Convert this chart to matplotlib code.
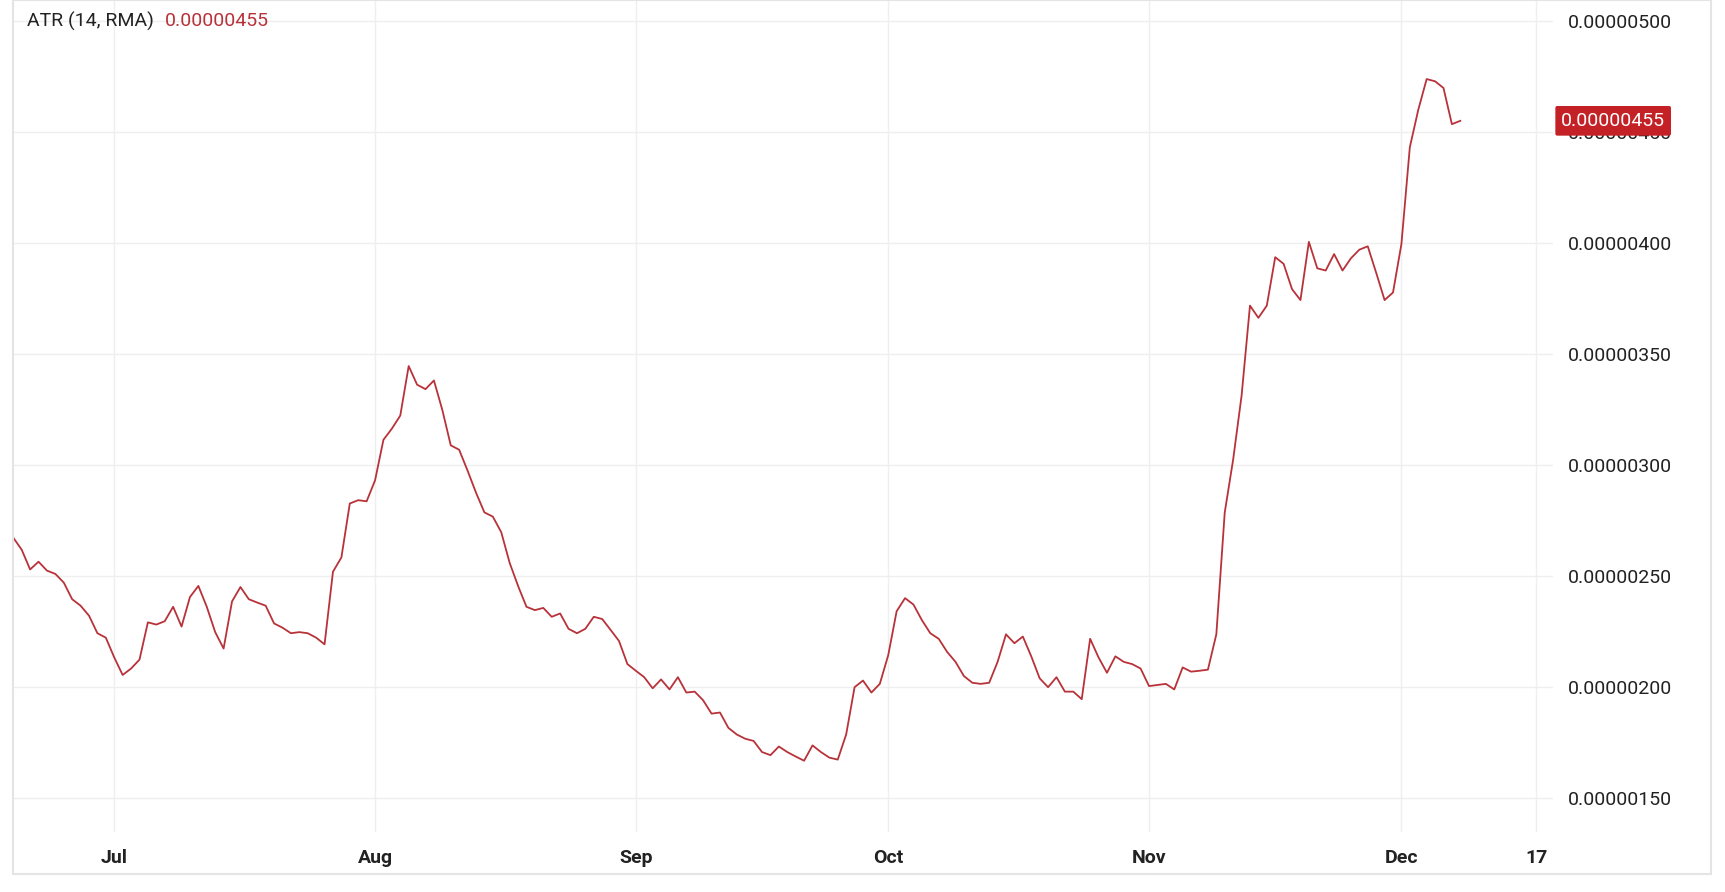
import pandas as pd
import numpy as np
import matplotlib
matplotlib.use("Agg")
import matplotlib.pyplot as plt
from matplotlib.patches import Rectangle

plt.rcParams['font.family'] = ['Roboto', 'DejaVu Sans']

start_date = "2024-06-19"
# ATR values, units of 1e-8
atr = [267.3, 261.9, 253.0, 256.5, 252.5, 251.0, 247.1, 239.6, 236.7, 232.2,
       224.3, 222.3, 213.4, 205.5, 208.4, 212.4, 229.2, 228.2, 229.7, 236.2,
       227.3, 240.6, 245.6, 236.2, 224.8, 217.4, 238.6, 245.1, 239.6, 238.1,
       236.7, 228.7, 226.8, 224.3, 224.8, 224.3, 222.3, 219.3, 252.0, 258.4,
       282.7, 284.2, 283.7, 293.1, 311.4, 316.4, 322.3, 344.6, 336.2, 334.2,
       338.1, 324.8, 308.9, 306.9, 297.5, 287.6, 278.7, 276.8, 269.8, 256.0,
       245.6, 236.2, 234.7, 235.7, 231.7, 233.2, 226.3, 224.3, 226.3, 231.7,
       230.7, 225.8, 220.8, 210.4, 207.4, 204.5, 199.5, 203.5, 199.0, 204.5,
       197.6, 198.0, 194.1, 188.1, 188.6, 181.7, 178.7, 176.8, 175.8, 170.8,
       169.4, 173.3, 170.8, 168.8, 166.9, 173.8, 170.8, 168.3, 167.4, 178.7,
       200.0, 203.0, 197.6, 201.5, 214.4, 234.2, 240.1, 237.2, 230.2, 224.3,
       221.8, 215.9, 211.4, 205.0, 202.0, 201.5, 202.0, 211.4, 223.8, 219.8,
       222.8, 213.9, 204.0, 200.0, 204.5, 198.0, 198.0, 194.6, 221.8, 213.4,
       206.5, 213.9, 211.4, 210.4, 208.4, 200.5, 201.0, 201.5, 199.0, 208.9,
       207.0, 207.4, 207.9, 223.8, 278.7, 302.5, 331.2, 371.8, 366.3, 371.8,
       393.6, 390.6, 379.2, 374.3, 400.5, 388.6, 387.6, 395.0, 387.6, 393.1,
       397.0, 398.5, 386.6, 374.3, 377.7, 399.5, 443.1, 459.9, 473.8, 472.8,
       469.8, 453.5, 455.0]
y_ticks = [150, 200, 250, 300, 350, 400, 450, 500]
x_ticks = ["2024-07-01", "2024-08-01", "2024-09-01", "2024-10-01",
           "2024-11-01", "2024-12-01", "2024-12-17"]
x_labels = ["Jul", "Aug", "Sep", "Oct", "Nov", "Dec", "17"]

dates = pd.date_range(start_date, periods=len(atr), freq="D")
values = np.array(atr) * 1e-8
last = values[-1]

fig = plt.figure(figsize=(17.25, 8.92), dpi=100)
ax = fig.add_axes([0.0077, 0.067, 0.8925, 0.933])

red = "#b8323a"
ax.plot(dates, values, color=red, linewidth=1.3)

ax.set_xlim(pd.Timestamp(start_date), pd.Timestamp("2024-12-19"))
ax.set_ylim(134.7e-8, 509.4e-8)

ax.set_yticks([v * 1e-8 for v in y_ticks])
ax.set_yticklabels([f"{v * 1e-8:.8f}" for v in y_ticks])
ax.yaxis.tick_right()
ax.set_xticks(pd.to_datetime(x_ticks))
ax.set_xticklabels(x_labels, fontweight="bold")
ax.tick_params(axis="y", length=0, pad=11, labelsize=14, labelcolor="#222222")
ax.tick_params(axis="x", length=0, pad=12, labelsize=14, labelcolor="#222222")
for lab in ax.get_yticklabels():
    lab.set_horizontalalignment("left")

ax.grid(True, color="#efefef", linewidth=1)
for s in ax.spines.values():
    s.set_visible(False)

# last value marker on the price scale
ax.annotate(f"{last:.8f}", xy=(1.0, last), xycoords=("axes fraction", "data"),
            xytext=(6, 0), textcoords="offset points", ha="left", va="center",
            fontsize=14, color="white",
            bbox=dict(boxstyle="round,pad=0.3,rounding_size=0.1", fc="#c42126", ec="none"))

# legend-like title
t = fig.text(0.0155, 0.976, "ATR (14, RMA)", fontsize=14, color="#222222", va="center")
ax.annotate(f"{last:.8f}", xy=(1, 0.5), xycoords=t, xytext=(8, 0),
            textcoords="offset points", fontsize=14, color=red, va="center")

fig.patches.append(Rectangle((0.0077, 0.02), 0.9843, 0.98, transform=fig.transFigure,
                             fill=False, edgecolor="#e4e4e4", linewidth=1.5))

fig.savefig("out.png", dpi=100, facecolor="white")
